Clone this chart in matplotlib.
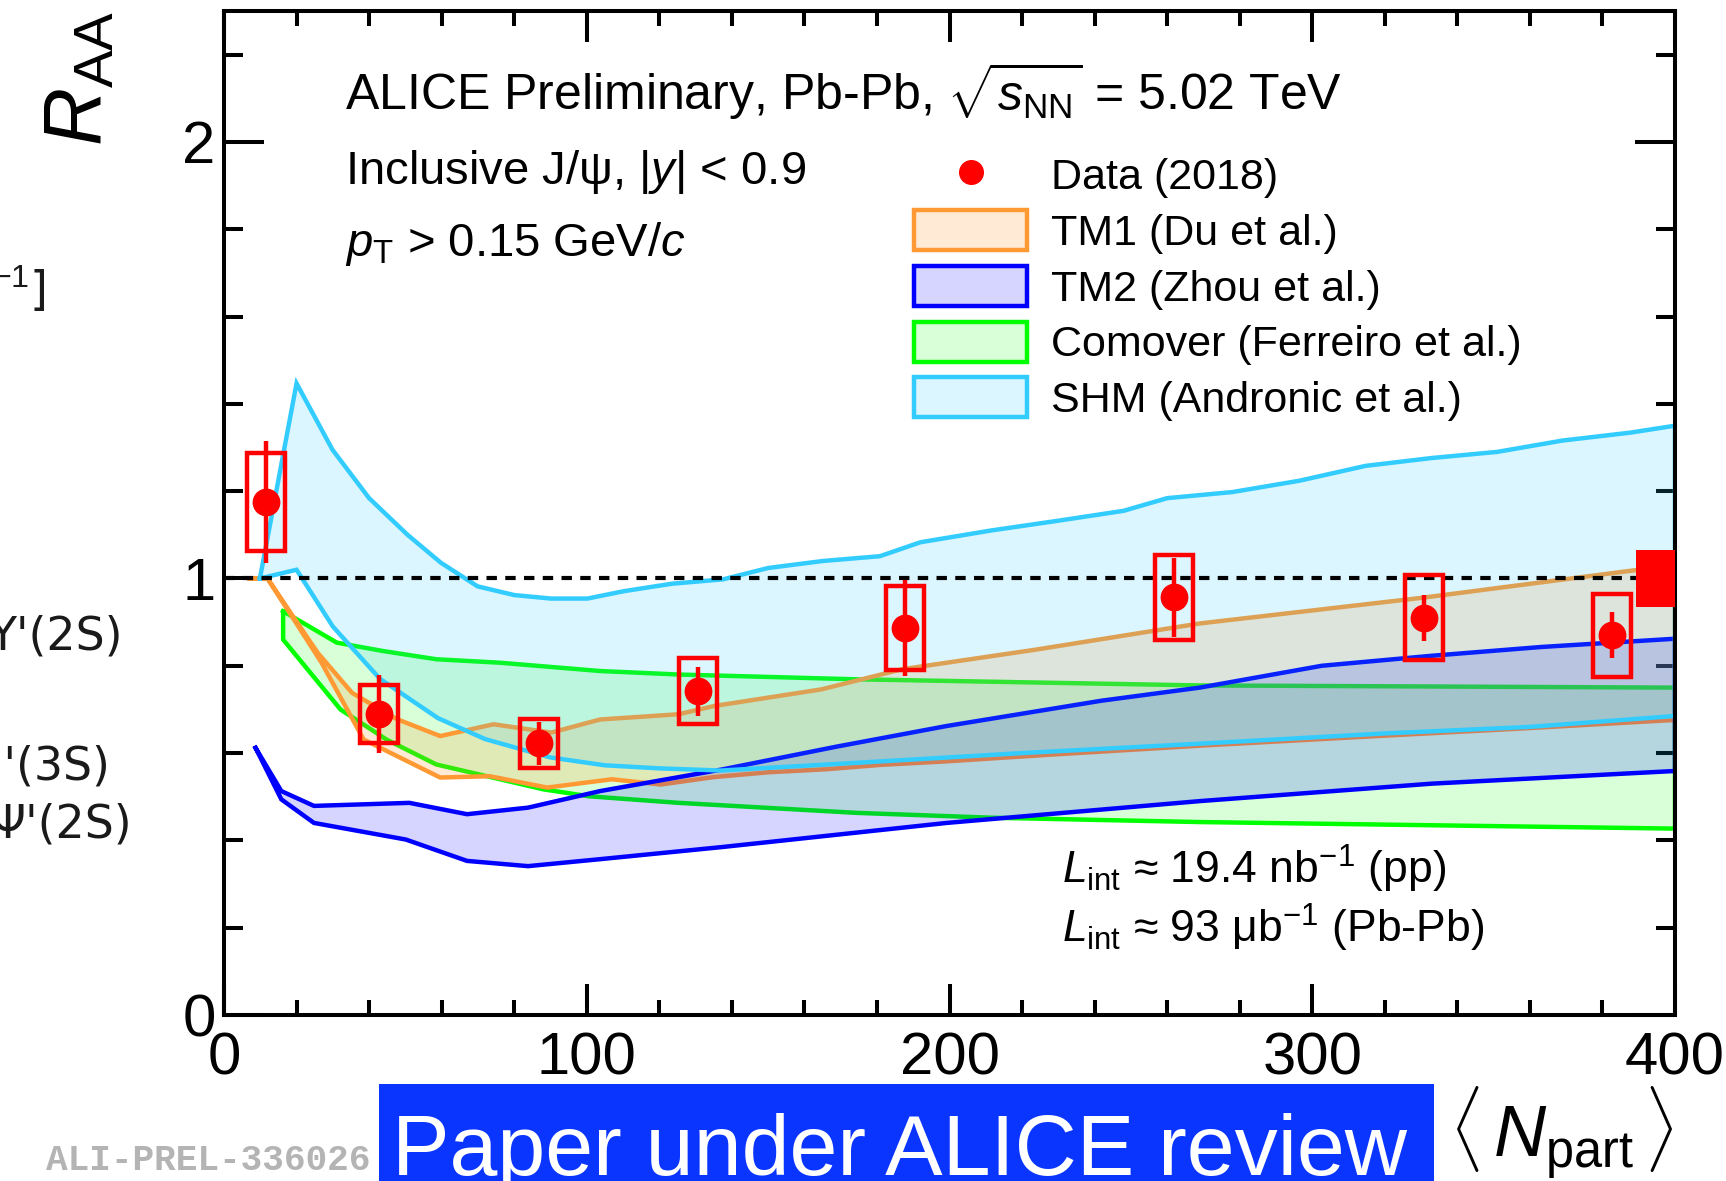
import numpy as np
import matplotlib
matplotlib.use('Agg')
import matplotlib.pyplot as plt
from matplotlib.patches import Rectangle, Patch
from matplotlib.lines import Line2D

plt.rcParams['font.family'] = ['Liberation Sans', 'DejaVu Sans']
plt.rcParams['mathtext.fontset'] = 'custom'
plt.rcParams['mathtext.rm'] = 'Liberation Sans'
plt.rcParams['mathtext.it'] = 'Liberation Sans:italic'
plt.rcParams['mathtext.bf'] = 'Liberation Sans:bold'

# data points
npart = [11.5, 42.7, 86.9, 130.7, 187.8, 261.9, 330.8, 382.6]
raa = [1.176, 0.69, 0.622, 0.742, 0.887, 0.957, 0.91, 0.870]
stat = [0.14, 0.09, 0.05, 0.056, 0.11, 0.09, 0.053, 0.053]
syst = [0.112, 0.067, 0.057, 0.076, 0.096, 0.097, 0.097, 0.095]
box_hw = 5.2
glob_unc = 0.065

# model bands (upper / lower edges)
shm_x_up = [9.9, 20, 29.9, 40, 50.6, 59.8, 69.9, 80, 90.1, 100.2, 110.3, 123.5, 137.6, 150, 165,
            180.8, 192, 211.5, 229.7, 248, 260, 278, 296.5, 314.7, 333, 351, 369, 387.6, 400]
shm_up = [1.0, 1.447, 1.295, 1.184, 1.1, 1.036, 0.982, 0.962, 0.954, 0.954, 0.971, 0.988, 0.998, 1.024, 1.04,
          1.051, 1.083, 1.11, 1.132, 1.155, 1.184, 1.198, 1.224, 1.258, 1.276, 1.29, 1.316, 1.334, 1.35]
shm_x_lo = [9.9, 20, 30, 43, 59, 72, 90, 105, 120, 137, 175, 220, 270, 320, 360, 400]
shm_lo = [1.0, 1.02, 0.89, 0.77, 0.68, 0.632, 0.59, 0.572, 0.565, 0.56, 0.578, 0.6, 0.622, 0.645, 0.66, 0.685]

tm1_x_up = [7, 12, 18.4, 25.8, 35.3, 47.6, 59.6, 74.3, 90.2, 103.7, 125.3, 135.2, 164.7, 186.9, 223.8,
            269, 330.5, 389, 400]
tm1_up = [1.0, 1.0, 0.921, 0.83, 0.738, 0.678, 0.639, 0.666, 0.647, 0.677, 0.689, 0.708, 0.746, 0.792, 0.837,
          0.897, 0.956, 1.019, 1.03]
tm1_x_lo = [7, 12, 26.9, 38.5, 59.6, 73.3, 89.1, 106.9, 120.4, 135, 150, 166, 181, 199, 227, 269, 320, 357, 400]
tm1_lo = [1.0, 1.0, 0.807, 0.631, 0.544, 0.547, 0.521, 0.54, 0.528, 0.545, 0.556, 0.563, 0.573, 0.581, 0.596,
          0.617, 0.64, 0.656, 0.676]

tm2_x_up = [8.7, 15.8, 24.8, 51.1, 67, 83.8, 103.7, 137.6, 169, 199.2, 241.9, 269, 302.6, 333, 363, 400]
tm2_up = [0.612, 0.513, 0.479, 0.486, 0.46, 0.475, 0.513, 0.563, 0.615, 0.662, 0.72, 0.75, 0.80, 0.823, 0.843, 0.862]
tm2_x_lo = [8.7, 15.8, 24.8, 50.1, 67, 83.8, 103.7, 137.6, 199.2, 269, 333, 400]
tm2_lo = [0.612, 0.494, 0.44, 0.402, 0.353, 0.341, 0.357, 0.385, 0.44, 0.49, 0.53, 0.559]

com_x_up = [16.3, 31.1, 43.7, 58.5, 76.1, 103.7, 125.3, 174.5, 269, 400]
com_up = [0.925, 0.853, 0.834, 0.815, 0.807, 0.788, 0.78, 0.769, 0.755, 0.75]
com_x_lo = [16.3, 32.1, 44.8, 58.5, 76.1, 88, 100.7, 125.3, 174.5, 211.4, 269, 400]
com_lo = [0.86, 0.7, 0.631, 0.574, 0.54, 0.517, 0.501, 0.486, 0.463, 0.452, 0.442, 0.427]

models = [
    ('Comover (Ferreiro et al.)', com_x_up, com_up, com_x_lo, com_lo, '#00ff00', (0, 1, 0, 0.15)),
    ('TM1 (Du et al.)', tm1_x_up, tm1_up, tm1_x_lo, tm1_lo, '#ff9933', (1, 0.6, 0.2, 0.2)),
    ('TM2 (Zhou et al.)', tm2_x_up, tm2_up, tm2_x_lo, tm2_lo, '#0000ff', (0, 0, 1, 0.165)),
    ('SHM (Andronic et al.)', shm_x_up, shm_up, shm_x_lo, shm_lo, '#33ccff', (0.2, 0.8, 1, 0.17)),
]

fig = plt.figure(figsize=(17.26, 11.81), dpi=100)
ax = fig.add_axes([224 / 1726, 1 - 1015 / 1181, 1451 / 1726, 1004 / 1181])

lw = 3.2
for name, xu, yu, xl, yl, lc, fc in models:
    px = list(xu) + list(xl[::-1])
    py = list(yu) + list(yl[::-1])
    ax.fill(px, py, facecolor=fc, edgecolor='none', zorder=2)
    ax.plot(px + [px[0]], py + [py[0]], color=lc, lw=lw, zorder=2, solid_joinstyle='miter')

ax.axhline(1, color='black', lw=3.0, ls=(0, (2.5, 2.0)), zorder=3)

for x, y, s in zip(npart, raa, syst):
    ax.add_patch(Rectangle((x - box_hw, y - s), 2 * box_hw, 2 * s, fill=False,
                           edgecolor='red', lw=lw, zorder=5))
ax.errorbar(npart, raa, yerr=stat, fmt='o', color='red', ms=19, elinewidth=lw,
            capsize=0, zorder=6)
ax.add_patch(Rectangle((389.2, 1 - glob_unc), 10.8, 2 * glob_unc, facecolor='red',
                       edgecolor='none', zorder=6))

ax.set_xlim(0, 400)
ax.set_ylim(0, 2.3)
ax.set_xticks([0, 100, 200, 300, 400])
ax.set_xticks(np.arange(0, 401, 20), minor=True)
ax.set_yticks([0, 1, 2])
ax.set_yticks(np.arange(0, 2.31, 0.2), minor=True)
ax.tick_params(which='both', direction='in', top=True, right=True, width=2.9, labelsize=43)
ax.tick_params(axis='x', which='major', length=22, pad=12)
ax.tick_params(axis='x', which='minor', length=11)
ax.tick_params(axis='y', which='major', length=29, pad=6)
ax.tick_params(axis='y', which='minor', length=14)
for sp in ax.spines.values():
    sp.set_linewidth(2.9)

# texts
ax.text(0.0834, 0.9014, r'ALICE Preliminary, Pb-Pb, $\sqrt{s_{\rm NN}}$ = 5.02 TeV',
        transform=ax.transAxes, fontsize=36, va='baseline')
ax.text(0.0834, 0.8277, r'Inclusive J/ψ, $|y|$ < 0.9', transform=ax.transAxes,
        fontsize=34, va='baseline')
ax.text(0.0834, 0.7555, r'$p_{\rm T}$ > 0.15 GeV/$c$', transform=ax.transAxes,
        fontsize=34, va='baseline')
ax.text(0.5775, 0.1305, r'$L_{\rm int}$ ≈ 19.4 nb$^{-1}$ (pp)', transform=ax.transAxes,
        fontsize=32, va='baseline')
ax.text(0.5775, 0.0717, r'$L_{\rm int}$ ≈ 93 μb$^{-1}$ (Pb-Pb)', transform=ax.transAxes,
        fontsize=32, va='baseline')

handles = [Line2D([], [], marker='o', color='red', ls='none', ms=17)]
labels = ['Data (2018)']
for name in ['TM1 (Du et al.)', 'TM2 (Zhou et al.)', 'Comover (Ferreiro et al.)', 'SHM (Andronic et al.)']:
    m = [mm for mm in models if mm[0] == name][0]
    handles.append(Patch(facecolor=m[6], edgecolor=m[5], lw=lw))
    labels.append(name)
ax.legend(handles, labels, loc='upper left', bbox_to_anchor=(0.4755, 0.857), frameon=False,
          fontsize=31, handlelength=2.63, handleheight=1.05, labelspacing=0.28,
          handletextpad=0.55, borderpad=0, borderaxespad=0)

# axis titles
fig.text(80 / 1726, 1 - 11 / 1181, r'$R_{\rm AA}$', rotation=90, ha='center', va='top', fontsize=58)
fig.text(1673 / 1726, 1 - 1157 / 1181, r'$\langle\, N_{\rm part}\, \rangle$', ha='right',
         va='baseline', fontsize=52)

# banner and labels at bottom
fig.patches.append(Rectangle((379 / 1726, 0), 1055 / 1726, 97 / 1181, transform=fig.transFigure,
                             facecolor='#0a35ff', edgecolor='none', zorder=0))
fig.text(392 / 1726, 1 - 1175 / 1181, 'Paper under ALICE review', color='white', fontsize=62,
         va='baseline')
fig.text(46 / 1726, 1 - 1170 / 1181, 'ALI-PREL-336026', color='#b4b4b4', fontsize=26,
         family='Liberation Mono', weight='bold', va='baseline')

# fragments of a neighbouring slide on the left edge
frag_txt = ['m$^{-1}$]', "Υ'(2S)", "Υ''(3S)", "Ψ'(2S)"]
frag_x = [46, 123, 110, 132]
frag_y = [305, 649, 779, 837]
for t, x, y in zip(frag_txt, frag_x, frag_y):
    fig.text(x / 1726, 1 - y / 1181, t, ha='right', va='baseline', fontsize=33,
             family=['DejaVu Sans'], color='#1a1a1a')

fig.savefig('out.png', dpi=100)
